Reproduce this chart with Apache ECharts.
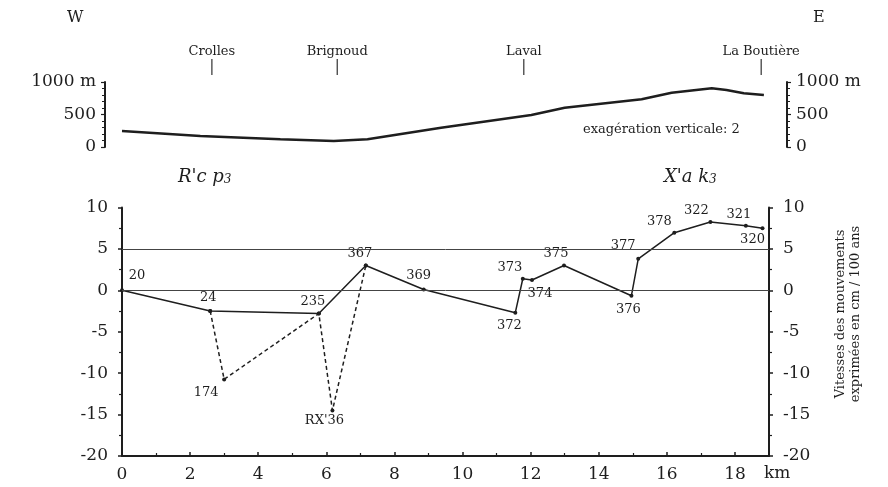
<!DOCTYPE html>
<html>
<head>
<meta charset="utf-8">
<script src="https://cdn.jsdelivr.net/npm/echarts@6/dist/echarts.min.js"></script>
<style>
  html, body { margin: 0; padding: 0; background: #fff; }
  #chart { width: 888px; height: 487px; }
</style>
</head>
<body>
<div id="chart"></div>
<script>
// profil topographique W-E (km, altitude en m)
const profilKm = [0, 2.3, 4.65, 6.22, 7.21, 9.37, 12.02, 13.0, 15.26, 16.14, 17.32, 17.75, 18.26, 18.85];
const profilAlt = [246, 169, 118, 92, 118, 297, 492, 605, 734, 835, 903, 877, 826, 800];

// localités le long du profil
const villes = ["Crolles", "Brignoud", "Laval", "La Boutière"];
const villesKm = [2.64, 6.32, 11.8, 18.77];

// repères de nivellement, trait plein
const reperes = ["20", "24", "235", "367", "369", "372", "373", "374", "375", "376", "377", "378", "322", "321", "320"];
const reperesKm = [0, 2.59, 5.78, 7.16, 8.86, 11.55, 11.77, 12.04, 12.98, 14.96, 15.16, 16.22, 17.28, 18.32, 18.81];
const reperesVit = [0, -2.5, -2.8, 3.0, 0.1, -2.7, 1.4, 1.25, 3.0, -0.65, 3.8, 6.96, 8.25, 7.8, 7.5];

// variante en tirets (174, RX'36)
const variante = ["24", "174", "235", "RX'36", "367"];
const varianteKm = [2.59, 3.0, 5.78, 6.18, 7.16];
const varianteVit = [-2.5, -10.75, -2.8, -14.5, 3.0];

// graduations
const altTicks = [0, 500, 1000];
const vitTicks = [-20, -15, -10, -5, 0, 5, 10];

const serif = "DejaVu Serif";
const ink = "#1e1e1e";

// placement des étiquettes (position, décalage)
const placement = {
  "20": ["top", [15, -1]],
  "24": ["top", [-2, 0]],
  "235": ["top", [-6, 2]],
  "367": ["top", [-6, 2]],
  "369": ["top", [-5, 0]],
  "372": ["bottom", [-6, -1]],
  "373": ["top", [-13, 2]],
  "374": ["bottom", [8, 0]],
  "375": ["top", [-8, 2]],
  "376": ["bottom", [-3, 0]],
  "377": ["top", [-15, 0]],
  "378": ["top", [-15, 2]],
  "322": ["top", [-14, 2]],
  "321": ["top", [-7, 2]],
  "320": ["bottom", [-10, -2]],
  "174": ["bottom", [-18, 0]],
  "RX'36": ["bottom", [-8, -3]],
};

function pointData(noms, km, vit, avecEtiquette) {
  return noms.map((nom, i) => {
    const p = placement[nom];
    return {
      name: nom,
      value: [km[i], vit[i]],
      label: avecEtiquette(nom)
        ? { show: true, position: p[0], offset: p[1] }
        : { show: false },
    };
  });
}

const myChart = echarts.init(document.getElementById("chart"));

const axeVit = (pos) => ({
  type: "value",
  gridIndex: 1,
  position: pos,
  min: -20,
  max: 10,
  interval: 5,
  axisLine: { show: true, onZero: false, lineStyle: { color: ink, width: 2 } },
  axisTick: { show: true, length: 4, lineStyle: { color: ink, width: 1.5 } },
  minorTick: { show: true, splitNumber: 2, length: 3, lineStyle: { color: ink, width: 1.2 } },
  splitLine: { show: false },
  axisLabel: { fontFamily: serif, fontSize: 17, color: ink, margin: 14,
    customValues: vitTicks },
});

const axeAlt = (pos, offset) => ({
  type: "value",
  gridIndex: 0,
  position: pos,
  offset: offset,
  min: 0,
  max: 1000,
  interval: 500,
  axisLine: { show: true, onZero: false, lineStyle: { color: ink, width: 2 } },
  axisTick: { show: true, length: 4, lineStyle: { color: ink, width: 1.2 } },
  minorTick: { show: true, splitNumber: 5, length: 3, lineStyle: { color: ink, width: 1 } },
  splitLine: { show: false },
  axisLabel: {
    fontFamily: serif, fontSize: 17, color: ink, margin: 9,
    customValues: altTicks,
    formatter: (v) => (v === 1000 ? "1000 m" : String(v)),
  },
});

const italique = {
  i: { fontFamily: serif, fontStyle: "italic", fontSize: 18, fill: ink, verticalAlign: "bottom" },
  s: { fontFamily: serif, fontStyle: "italic", fontSize: 12, fill: ink, verticalAlign: "top", padding: [8, 0, 0, 0] },
};

myChart.setOption({
  backgroundColor: "#fff",
  animation: false,
  grid: [
    { left: 122, right: 119, top: 82, height: 65 },
    { left: 122, right: 119, top: 207.5, bottom: 31 },
    { left: 122, right: 119, top: 59, height: 16 }, // repères des localités
  ],
  xAxis: [
    { type: "value", gridIndex: 0, min: 0, max: 19, show: false },
    {
      type: "value",
      gridIndex: 1,
      min: 0,
      max: 19,
      interval: 2,
      axisLine: { show: true, onZero: false, lineStyle: { color: ink, width: 2 } },
      axisTick: { show: true, inside: true, length: 4, lineStyle: { color: ink, width: 1.5 } },
      minorTick: { show: true, splitNumber: 2, length: 3, lineStyle: { color: ink, width: 1.2 } },
      splitLine: { show: false },
      axisLabel: { fontFamily: serif, fontSize: 17, color: ink, margin: 10, showMaxLabel: false },
      name: "km",
      nameLocation: "end",
      nameGap: -5,
      nameTextStyle: { fontFamily: serif, fontSize: 17, color: ink, align: "left",
        verticalAlign: "top", padding: [9, 0, 0, 0] },
    },
    { type: "value", gridIndex: 2, min: 0, max: 19, show: false },
  ],
  yAxis: [
    axeAlt("left", 17), axeAlt("right", 18), axeVit("left"), axeVit("right"),
    { type: "value", gridIndex: 2, min: 0, max: 1, show: false },
  ],
  graphic: [
    { type: "text", left: 67, top: 10, style: { text: "W", font: "16px " + serif, fill: ink } },
    { type: "text", left: 813, top: 10, style: { text: "E", font: "16px " + serif, fill: ink } },
    { type: "text", left: 583, top: 123, style: { text: "exagération verticale: 2", font: "13px " + serif, fill: ink } },
    { type: "text", left: 178, top: 168, style: { text: "{i|R'c p}{s|3}", rich: italique } },
    { type: "text", left: 664, top: 168, style: { text: "{i|X'a k}{s|3}", rich: italique } },
    {
      type: "text", x: 848, y: 314, rotation: Math.PI / 2,
      style: {
        text: "Vitesses des mouvements\nexprimées en cm / 100 ans",
        font: "13px " + serif, fill: ink, align: "center", verticalAlign: "middle", lineHeight: 15,
      },
    },
  ],
  series: [
    {
      name: "profil",
      type: "line",
      xAxisIndex: 0,
      yAxisIndex: 0,
      data: profilKm.map((k, i) => [k, profilAlt[i]]),
      showSymbol: false,
      silent: true,
      lineStyle: { color: ink, width: 2.5 },
    },
    {
      name: "localités",
      type: "bar",
      xAxisIndex: 2,
      yAxisIndex: 4,
      barWidth: 1.1,
      silent: true,
      itemStyle: { color: ink },
      data: villes.map((v, i) => ({ name: v, value: [villesKm[i], 1] })),
      label: { show: true, position: "top", distance: 1, formatter: "{b}",
        fontFamily: serif, fontSize: 13, color: ink },
    },
    {
      name: "vitesses",
      type: "line",
      xAxisIndex: 1,
      yAxisIndex: 2,
      data: pointData(reperes, reperesKm, reperesVit, () => true),
      symbol: "circle",
      symbolSize: 4,
      itemStyle: { color: ink },
      lineStyle: { color: ink, width: 1.5 },
      label: { fontFamily: serif, fontSize: 13, color: ink, formatter: "{b}" },
      markLine: {
        silent: true,
        symbol: ["none", "none"],
        label: { show: false },
        lineStyle: { color: "#444", width: 1, type: "solid" },
        data: [{ yAxis: 0 }, { yAxis: 5 }],
      },
      z: 3,
    },
    {
      name: "variante",
      type: "line",
      xAxisIndex: 1,
      yAxisIndex: 2,
      data: pointData(variante, varianteKm, varianteVit, (n) => n === "174" || n === "RX'36"),
      symbol: "circle",
      symbolSize: 4,
      itemStyle: { color: ink },
      lineStyle: { color: ink, width: 1.5, type: [4, 3] },
      label: { fontFamily: serif, fontSize: 13, color: ink, formatter: "{b}" },
      z: 2,
    },
  ],
});
</script>
</body>
</html>
